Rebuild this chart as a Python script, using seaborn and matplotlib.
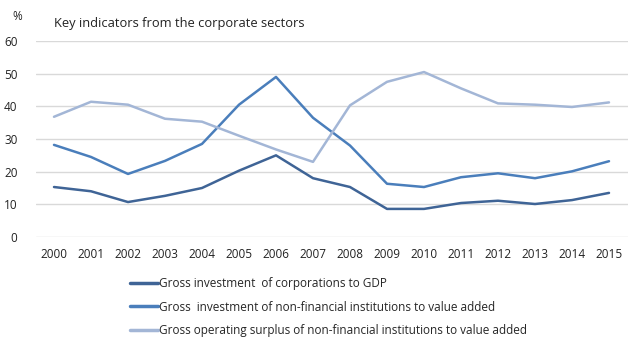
import matplotlib
matplotlib.use("Agg")
import matplotlib.pyplot as plt
import seaborn as sns
import pandas as pd

years = [str(y) for y in range(2000, 2016)]
corp_gdp = [15.3, 14.0, 10.7, 12.6, 15.0, 20.3, 25.0, 18.0, 15.3, 8.6, 8.6, 10.4, 11.1, 10.1, 11.3, 13.5]
nfi_invest = [28.2, 24.5, 19.3, 23.3, 28.5, 40.5, 49.0, 36.5, 28.0, 16.3, 15.3, 18.3, 19.5, 18.0, 20.1, 23.2]
nfi_surplus = [36.8, 41.4, 40.5, 36.2, 35.3, 31.0, 26.8, 23.0, 40.3, 47.5, 50.5, 45.5, 40.9, 40.5, 39.8, 41.2]

labels = ["Gross investment  of corporations to GDP",
          "Gross  investment of non-financial institutions to value added",
          "Gross operating surplus of non-financial institutions to value added"]
colors = ["#3F6496", "#4A7EBB", "#A3B6D6"]

df = pd.DataFrame({"year": years * 3,
                   "value": corp_gdp + nfi_invest + nfi_surplus,
                   "series": [labels[0]] * 16 + [labels[1]] * 16 + [labels[2]] * 16})

sns.set_theme(style="white")
plt.rcParams['font.family'] = ['Open Sans', 'DejaVu Sans']

fig = plt.figure(figsize=(6.42, 3.40), dpi=100)
ax = fig.add_axes([35.5/642, 1-237/340, (627.5-35.5)/642, (237-41)/340])
ax.set_facecolor("white")
fig.patch.set_facecolor("white")

sns.lineplot(data=df, x="year", y="value", hue="series", palette=colors,
             linewidth=1.8, ax=ax, sort=False, legend=True)

ax.set_xlim(-0.5, 15.5)
ax.set_ylim(0, 60)
ax.set_yticks(range(0, 61, 10))
ax.grid(axis="y", color="#D9D9D9", linewidth=1)
ax.set_axisbelow(True)
for s in ax.spines.values():
    s.set_visible(False)
ax.tick_params(axis="both", length=0, labelsize=8.5, colors="#222222")
ax.tick_params(axis="y", pad=13)
ax.tick_params(axis="x", pad=8)
ax.set_xlabel("")
ax.set_ylabel("")

leg = ax.legend(loc="upper left", bbox_to_anchor=(130/642, 1-277/340), bbox_transform=fig.transFigure,
                frameon=False, fontsize=8.5, handlelength=2.35, handletextpad=0.1,
                labelspacing=0.9, borderaxespad=0, borderpad=0)
for h in leg.get_lines():
    h.set_linewidth(2.5)

fig.text(54/642, 1-24/340, "Key indicators from the corporate sectors", fontsize=9.3,
         va="center", ha="left", color="#222222")
fig.text(12/642, 1-16/340, "%", fontsize=8.5, va="center", ha="left", color="#222222")

fig.savefig("out.png", dpi=100)
